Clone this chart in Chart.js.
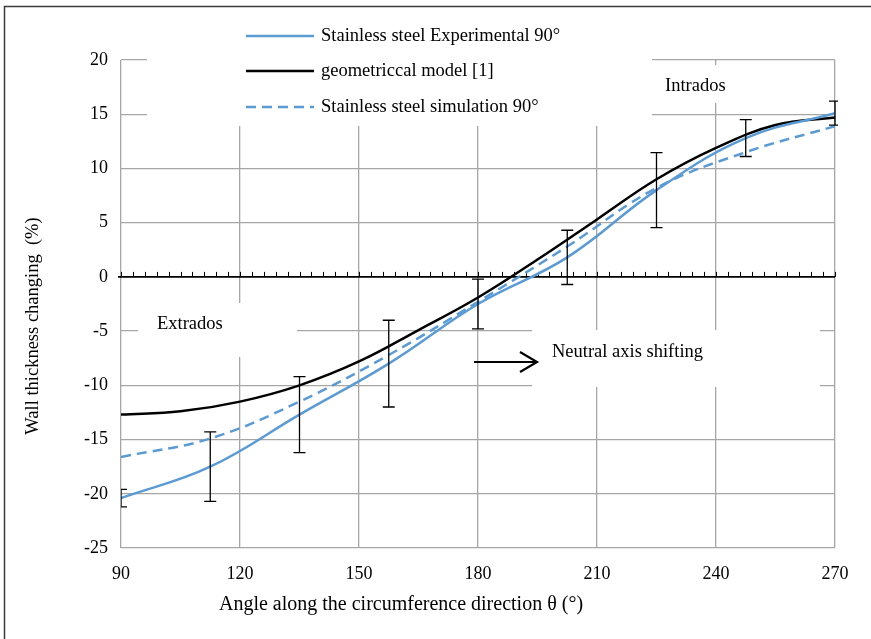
<!DOCTYPE html>
<html>
<head>
<meta charset="utf-8">
<script src="https://cdn.jsdelivr.net/npm/chart.js@4.4.0/dist/chart.umd.min.js"></script>
<style>
  html, body { margin: 0; padding: 0; background: #fff; }
  #cadre { width: 871px; height: 639px; }
</style>
</head>
<body>
<div id="cadre"><canvas id="graphique" width="871" height="639"></canvas></div>
<script>
// Angles (°) et variations d'épaisseur (%)
const anglesEssai = [90, 112.5, 135, 157.5, 180, 202.5, 225, 247.5, 270];
const experimental = [-20.4, -17.5, -12.7, -8.0, -2.5, 1.8, 8.0, 12.8, 15.1];
const ecartEssai = [0.8, 3.2, 3.5, 4.0, 2.3, 2.5, 3.45, 1.7, 1.1];

const anglesModele = [90, 105, 120, 135, 150, 165, 180, 195, 210, 225, 240, 255, 270];
const modele = [-12.7, -12.4, -11.5, -10.0, -7.8, -4.9, -1.9, 1.6, 5.3, 9.0, 11.9, 14.0, 14.7];

const anglesSimu = [90, 112.5, 135, 157.5, 180, 202.5, 225, 247.5, 270];
const simulation = [-16.6, -14.9, -11.5, -7.2, -2.3, 2.8, 8.2, 11.5, 13.9];

const ticksX = { min: 90, max: 270, pas: 30, mineur: 3 };
const ticksY = { min: -25, max: 20, pas: 5 };

const police = "'Liberation Serif', 'Times New Roman', serif";
const bleu = "#5b9bd5";

function points(xs, ys) {
    return xs.map((x, i) => ({ x: x, y: ys[i] }));
}

// 🧱 Cadre + encadrés blancs + axe du zéro
const decor = {
    id: "decor",
    beforeDraw(chart) {
        const ctx = chart.ctx;
        ctx.save();
        ctx.fillStyle = "#fff";
        ctx.fillRect(0, 0, chart.width, chart.height);
        ctx.strokeStyle = "#3a3a3a";
        ctx.lineWidth = 1.5;
        ctx.beginPath();
        ctx.moveTo(4.5, chart.height);
        ctx.lineTo(4.5, 6.5);
        ctx.lineTo(chart.width, 6.5);
        ctx.stroke();
        ctx.restore();
    },
    beforeDatasetsDraw(chart) {
        const ctx = chart.ctx;
        const sx = chart.scales.x, sy = chart.scales.y;
        ctx.save();
        // zones de texte (fond blanc)
        ctx.fillStyle = "#fff";
        ctx.fillRect(147, 12, 505, 114);
        ctx.fillRect(655, 65, 120, 38);
        ctx.fillRect(138, 303, 159, 54);
        ctx.fillRect(532, 330, 288, 57);

        // axe horizontal à 0 avec graduations
        const y0 = sy.getPixelForValue(0);
        ctx.strokeStyle = "#000";
        ctx.lineWidth = 1.6;
        ctx.beginPath();
        ctx.moveTo(sx.left - 3, y0);
        ctx.lineTo(sx.right, y0);
        ctx.stroke();
        ctx.lineWidth = 1;
        ctx.beginPath();
        for (let a = ticksX.min; a <= ticksX.max; a += ticksX.mineur) {
            const px = Math.round(sx.getPixelForValue(a)) + 0.5;
            ctx.moveTo(px, y0);
            ctx.lineTo(px, y0 - 5);
        }
        ctx.stroke();
        ctx.restore();
    }
};

// ⟂ Barres d'erreur sur les essais
const barresErreur = {
    id: "barresErreur",
    afterDatasetsDraw(chart) {
        const ctx = chart.ctx;
        const sx = chart.scales.x, sy = chart.scales.y;
        const a = chart.chartArea;
        ctx.save();
        ctx.beginPath();
        ctx.rect(a.left, 0, a.right - a.left + 3, chart.height);
        ctx.clip();
        ctx.strokeStyle = "#000";
        ctx.lineWidth = 1.3;
        anglesEssai.forEach((ang, i) => {
            const px = sx.getPixelForValue(ang);
            const haut = sy.getPixelForValue(experimental[i] + ecartEssai[i]);
            const bas = sy.getPixelForValue(experimental[i] - ecartEssai[i]);
            ctx.beginPath();
            ctx.moveTo(px, haut);
            ctx.lineTo(px, bas);
            ctx.moveTo(px - 6, haut);
            ctx.lineTo(px + 6, haut);
            ctx.moveTo(px - 6, bas);
            ctx.lineTo(px + 6, bas);
            ctx.stroke();
        });
        ctx.restore();
    }
};

// 📝 Légende, annotations et titres d'axes
const textes = {
    id: "textes",
    afterDraw(chart) {
        const ctx = chart.ctx;
        ctx.save();
        ctx.font = "18.5px " + police;
        ctx.fillStyle = "#000";
        ctx.textBaseline = "middle";
        ctx.textAlign = "left";

        const lignes = [36, 71, 107];
        chart.data.datasets.forEach((ds, i) => {
            ctx.strokeStyle = ds.borderColor;
            ctx.lineWidth = ds.borderWidth;
            ctx.setLineDash(ds.borderDash || []);
            ctx.beginPath();
            ctx.moveTo(246, lignes[i]);
            ctx.lineTo(314, lignes[i]);
            ctx.stroke();
            ctx.fillText(ds.label, 321, lignes[i]);
        });
        ctx.setLineDash([]);

        ctx.fillText("Intrados", 665, 86);
        ctx.fillText("Extrados", 157, 324);
        ctx.fillText("Neutral axis shifting", 552, 352);

        // flèche
        ctx.strokeStyle = "#000";
        ctx.lineWidth = 2.2;
        ctx.beginPath();
        ctx.moveTo(474, 362);
        ctx.lineTo(537, 362);
        ctx.moveTo(520, 352);
        ctx.lineTo(537, 362);
        ctx.lineTo(520, 372);
        ctx.stroke();

        ctx.textAlign = "center";
        ctx.font = "20px " + police;
        ctx.fillText("Angle along the circumference direction θ (°)", 401, 605);

        ctx.font = "18.5px " + police;
        ctx.translate(33, 326);
        ctx.rotate(-Math.PI / 2);
        ctx.fillText("Wall thickness changing  (%)", 0, 0);
        ctx.restore();
    }
};

new Chart(document.getElementById("graphique"), {
    type: "line",
    data: {
        datasets: [
            {
                label: "Stainless steel Experimental 90°",
                data: points(anglesEssai, experimental),
                borderColor: bleu,
                borderWidth: 2.5,
                pointRadius: 0,
                tension: 0.4
            },
            {
                label: "geometriccal model [1]",
                data: points(anglesModele, modele),
                borderColor: "#000",
                borderWidth: 2.5,
                pointRadius: 0,
                tension: 0.4
            },
            {
                label: "Stainless steel simulation 90°",
                data: points(anglesSimu, simulation),
                borderColor: bleu,
                borderWidth: 2.5,
                borderDash: [10, 6],
                pointRadius: 0,
                tension: 0.4
            }
        ]
    },
    options: {
        responsive: false,
        animation: false,
        devicePixelRatio: 1,
        layout: { padding: { top: 60, right: 36, left: 0, bottom: 0 } },
        plugins: {
            legend: { display: false },
            tooltip: { enabled: false }
        },
        scales: {
            x: {
                type: "linear",
                min: ticksX.min,
                max: ticksX.max,
                ticks: {
                    stepSize: ticksX.pas,
                    font: { family: police, size: 18 },
                    color: "#000",
                    padding: 15,
                    maxRotation: 0
                },
                grid: { color: "#a6a6a6", lineWidth: 1.3, drawTicks: false },
                border: { display: false },
                afterFit(s) { s.height = 91; }
            },
            y: {
                min: ticksY.min,
                max: ticksY.max,
                ticks: {
                    stepSize: ticksY.pas,
                    font: { family: police, size: 18 },
                    color: "#000",
                    padding: 13
                },
                grid: { color: "#a6a6a6", lineWidth: 1.3, drawTicks: false },
                border: { display: false },
                afterFit(s) { s.width = 121; }
            }
        }
    },
    plugins: [decor, barresErreur, textes]
});
</script>
</body>
</html>
